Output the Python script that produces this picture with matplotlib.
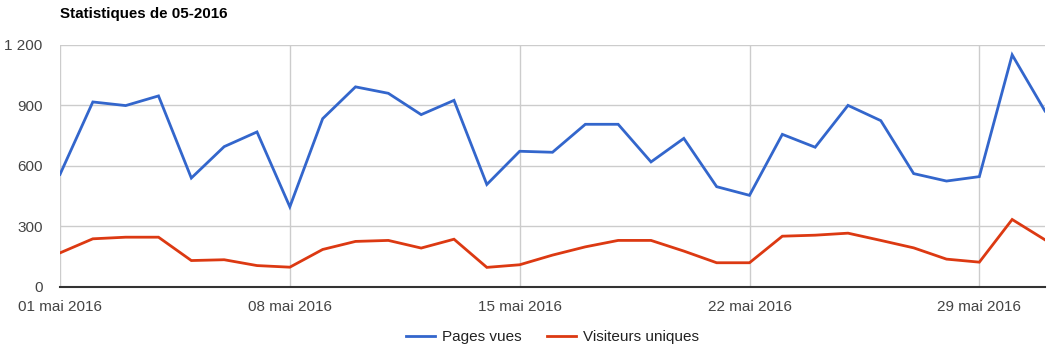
import matplotlib
matplotlib.use("Agg")
import matplotlib.pyplot as plt
from matplotlib.ticker import FuncFormatter

plt.rcParams['font.family'] = ['Liberation Sans', 'DejaVu Sans']

days = list(range(1, 32))
pages_vues = [557, 917, 899, 947, 539, 695, 768, 396, 834, 992, 960,
              854, 925, 507, 672, 667, 806, 806, 619, 736, 496,
              453, 756, 692, 900, 824, 561, 524, 546, 1151, 872]
visiteurs = [167, 237, 245, 245, 129, 133, 104, 96, 184, 224, 229,
             191, 235, 95, 108, 156, 197, 229, 229, 176, 118,
             118, 250, 255, 265, 229, 192, 136, 121, 333, 232]
xtick_days = [1, 8, 15, 22, 29]
xtick_labels = ["01 mai 2016", "08 mai 2016", "15 mai 2016", "22 mai 2016", "29 mai 2016"]
yticks = [0, 300, 600, 900, 1200]

fig = plt.figure(figsize=(10.57, 3.51), dpi=100)
ax = fig.add_axes([60/1057, 1-286.5/351, (1045-60)/1057, (286.5-45)/351])

ax.plot(days, pages_vues, color='#3366cc', lw=2.0, label='Pages vues', solid_joinstyle='miter')
ax.plot(days, visiteurs, color='#dc3912', lw=2.0, label='Visiteurs uniques', solid_joinstyle='miter')

ax.set_xlim(1, 31)
ax.set_ylim(0, 1200)
ax.set_xticks(xtick_days)
ax.set_xticklabels(xtick_labels)
ax.set_yticks(yticks)
ax.yaxis.set_major_formatter(FuncFormatter(lambda v, p: f"{int(v):,}".replace(",", " ")))
ax.grid(True, color='#cccccc', lw=1)
ax.set_axisbelow(True)
for s in ['top', 'right', 'left']:
    ax.spines[s].set_visible(False)
ax.spines['bottom'].set_color('#333333')
ax.spines['bottom'].set_linewidth(1.5)
ax.tick_params(length=0, labelsize=11, colors='#444444', pad=10)
ax.tick_params(axis='y', pad=12.5)
for lbl in ax.get_yticklabels() + ax.get_xticklabels():
    lbl.set_color('#444444')

fig.text(60/1057, 1-14/351, "Statistiques de 05-2016", fontsize=10.9, fontweight='bold',
         ha='left', va='center', color='black')

leg = fig.legend(loc='center', bbox_to_anchor=(552.5/1057, 1-337/351), ncol=2, frameon=False,
                 fontsize=11, handlelength=1.9, handletextpad=0.45, columnspacing=1.7)
for t in leg.get_texts():
    t.set_color('#222222')

fig.savefig("out.png", dpi=100)
